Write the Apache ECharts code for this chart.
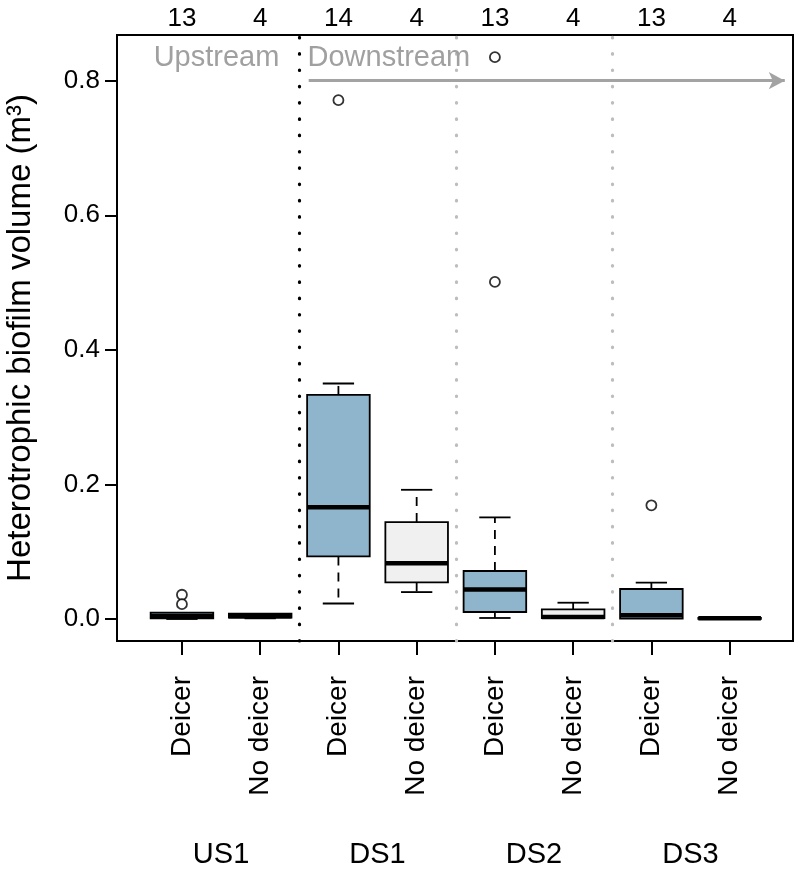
<!DOCTYPE html>
<html><head><meta charset="utf-8">
<script src="https://cdn.jsdelivr.net/npm/echarts@6/dist/echarts.min.js"></script>
<style>html,body{margin:0;padding:0;background:#fff}#c{width:800px;height:869px}</style>
</head><body><div id="c"></div>
<script>
// ---- data ----
const categories = ['Deicer','No deicer','Deicer','No deicer','Deicer','No deicer','Deicer','No deicer'];
const sites = ['US1','DS1','DS2','DS3'];
const counts = [13, 4, 14, 4, 13, 4, 13, 4];
const mins    = [0.000, 0.001, 0.023, 0.040, 0.0015, 0.001, 0.000, 0.000];
const q1s     = [0.001, 0.002, 0.093, 0.0545, 0.0104, 0.0015, 0.0005, 0.0003];
const medians = [0.0045, 0.004, 0.166, 0.083, 0.044, 0.003, 0.0055, 0.001];
const q3s     = [0.0094, 0.008, 0.333, 0.144, 0.0713, 0.0144, 0.0446, 0.0015];
const maxs    = [0.0094, 0.008, 0.350, 0.192, 0.151, 0.0242, 0.054, 0.002];
const outliers = [[1, 0.036], [1, 0.022], [3, 0.771], [5, 0.501], [5, 0.835], [7, 0.169]];
const yTicks = [0, 0.2, 0.4, 0.6, 0.8];
const dividers = [2.5, 4.5, 6.5];

// ---- styling ----
const FONT = '"Liberation Sans", Arial, Helvetica, sans-serif';
const fillFor = {'Deicer': '#8FB5CC', 'No deicer': '#F0F0F0'};
const dotBlack = {color: '#000', width: 3.2, type: [0.5, 15.8], cap: 'round'};
const dotGrey  = {color: '#BDBDBD', width: 3.2, type: [0.5, 15.8], cap: 'round'};

const boxData = categories.map((c, i) => [i + 1, mins[i], q1s[i], medians[i], q3s[i], maxs[i], i]);
const tickPos = categories.map((c, i) => i + 1);
const sitePos = sites.map((s, i) => 2 * i + 1.5);

const chart = echarts.init(document.getElementById('c'), null, {renderer: 'canvas'});
const xMin = 0.17, xMax = 8.81;

chart.setOption({
  animation: false,
  backgroundColor: '#fff',
  grid: {left: 117, top: 35, width: 676, height: 606, show: true, borderColor: '#000', borderWidth: 2,
         backgroundColor: 'transparent', containLabel: false, outerBoundsMode: 'none'},
  xAxis: [
    { type: 'value', min: xMin, max: xMax, position: 'bottom',
      axisLine: {show: false, onZero: false}, splitLine: {show: false},
      axisTick: {show: true, customValues: tickPos, length: 14, lineStyle: {color: '#000', width: 2}},
      axisLabel: {show: true, customValues: tickPos, rotate: 90, margin: 35,
        color: '#000', fontSize: 28, fontFamily: FONT,
        formatter: v => categories[Math.round(v) - 1] || ''} },
    { type: 'value', min: xMin, max: xMax, position: 'top',
      axisLine: {show: false, onZero: false}, splitLine: {show: false}, axisTick: {show: false},
      axisLabel: {show: true, customValues: tickPos, margin: 3, color: '#000', fontSize: 26, fontFamily: FONT,
        formatter: v => String(counts[Math.round(v) - 1])} },
    { type: 'value', min: xMin, max: xMax, position: 'bottom',
      axisLine: {show: false, onZero: false}, splitLine: {show: false}, axisTick: {show: false},
      axisLabel: {show: true, customValues: sitePos, margin: 199, color: '#000', fontSize: 29, fontFamily: FONT,
        formatter: v => sites[Math.round((v - 1.5) / 2)] || ''} }
  ],
  yAxis: {
    type: 'value', min: -0.0327, max: 0.8679,
    name: 'Heterotrophic biofilm volume (m³)', nameLocation: 'middle', nameGap: 80, nameRotate: 90,
    nameTextStyle: {color: '#000', fontSize: 33, fontFamily: FONT},
    axisLine: {show: false, onZero: false}, splitLine: {show: false},
    axisTick: {show: true, customValues: yTicks, length: 12, lineStyle: {color: '#000', width: 2}},
    axisLabel: {show: true, customValues: yTicks, margin: 17, color: '#000', fontSize: 26, fontFamily: FONT,
      formatter: v => v.toFixed(1)}
  },
  series: [
    {
      type: 'custom', name: 'boxes', xAxisIndex: 0, yAxisIndex: 0, clip: false,
      data: boxData,
      encode: {x: 0, y: [1, 2, 3, 4, 5]},
      renderItem: function (params, api) {
        const x = api.value(0);
        const idx = api.value(6);
        const w = api.size([0.8, 0])[0];
        const cx = api.coord([x, 0])[0];
        const yOf = v => api.coord([x, v])[1];
        const yMin = yOf(api.value(1)), yQ1 = yOf(api.value(2)), yMed = yOf(api.value(3)),
              yQ3 = yOf(api.value(4)), yMax = yOf(api.value(5));
        const half = w / 2, cap = w / 4;
        const wStyle = {stroke: '#000', lineWidth: 1.8, lineDash: [9, 7]};
        const sStyle = {stroke: '#000', lineWidth: 1.8};
        const ch = [];
        if (yMin - yQ1 > 0.5) {
          ch.push({type: 'line', shape: {x1: cx, y1: yQ1, x2: cx, y2: yMin}, style: wStyle});
          ch.push({type: 'line', shape: {x1: cx - cap, y1: yMin, x2: cx + cap, y2: yMin}, style: sStyle});
        }
        if (yQ3 - yMax > 0.5) {
          ch.push({type: 'line', shape: {x1: cx, y1: yQ3, x2: cx, y2: yMax}, style: wStyle});
          ch.push({type: 'line', shape: {x1: cx - cap, y1: yMax, x2: cx + cap, y2: yMax}, style: sStyle});
        }
        ch.push({type: 'rect', shape: {x: cx - half, y: yQ3, width: w, height: Math.max(yQ1 - yQ3, 0.5)},
                 style: {fill: fillFor[categories[idx]], stroke: '#000', lineWidth: 1.8}});
        ch.push({type: 'line', shape: {x1: cx - half, y1: yMed, x2: cx + half, y2: yMed},
                 style: {stroke: '#000', lineWidth: 4.5}});
        return {type: 'group', children: ch};
      },
      z: 3
    },
    {
      type: 'scatter', name: 'outliers', xAxisIndex: 0, yAxisIndex: 0,
      data: outliers, symbol: 'circle', symbolSize: 10,
      itemStyle: {color: '#fff', borderColor: '#000', borderWidth: 1.8},
      z: 4,
      markLine: {
        silent: true, symbol: ['none', 'none'], label: {show: false}, animation: false,
        data: [
          {xAxis: dividers[0], lineStyle: dotBlack},
          {xAxis: dividers[1], lineStyle: dotGrey},
          {xAxis: dividers[2], lineStyle: dotGrey},
          [
            {coord: [2.62, 0.8], symbol: 'none', lineStyle: {color: '#A3A3A3', width: 3, type: 'solid'}},
            {coord: [8.705, 0.8], symbol: 'arrow', symbolSize: [13, 16]}
          ]
        ]
      },
      markPoint: {
        silent: true, symbol: 'circle', symbolSize: 0, animation: false,
        label: {show: true, position: 'inside', color: '#A0A0A0', fontSize: 29, fontFamily: FONT},
        data: [
          {coord: [1.442, 0.833], label: {formatter: 'Upstream'}},
          {coord: [3.645, 0.833], label: {formatter: 'Downstream'}}
        ]
      }
    }
  ]
});
</script>
</body></html>
